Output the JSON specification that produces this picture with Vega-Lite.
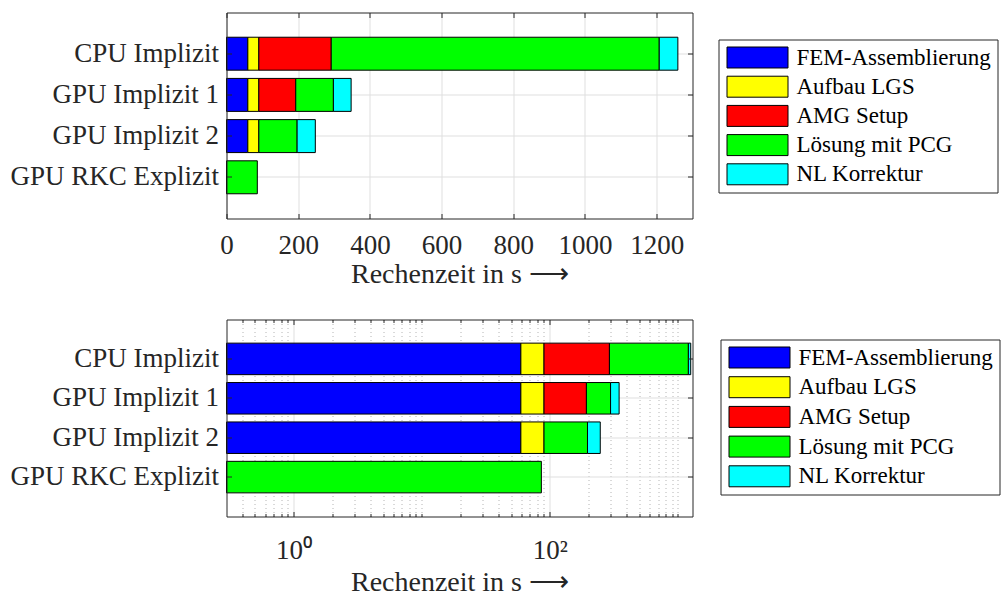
{
  "$schema": "https://vega.github.io/schema/vega-lite/v6.json",
  "background": "white",
  "padding": {"left": 9.5, "top": 11.5, "right": 0, "bottom": 0},
  "spacing": 30,
  "config": {
    "font": "Liberation Serif",
    "view": {"stroke": null},
    "axis": {
      "labelFont": "Liberation Serif",
      "titleFont": "Liberation Serif",
      "labelColor": "#262626",
      "titleColor": "#262626",
      "labelFontSize": 27,
      "titleFontSize": 28,
      "titleFontWeight": "normal",
      "labelLimit": 400,
      "tickColor": "#262626",
      "domainColor": "#262626",
      "tickWidth": 1,
      "domainWidth": 1,
      "gridColor": "#dfdfdf",
      "gridWidth": 1,
      "labelOverlap": false
    },
    "legend": {
      "orient": "none",
      "title": null,
      "direction": "vertical",
      "symbolType": "M-1,-0.344H1V0.344H-1Z",
      "symbolSize": 3721,
      "symbolStrokeColor": "#000",
      "symbolStrokeWidth": 1,
      "symbolOpacity": 1,
      "symbolOffset": 2,
      "clipHeight": 24,
      "labelFont": "Liberation Serif",
      "labelFontSize": 23,
      "labelColor": "#000",
      "labelOffset": 8,
      "labelLimit": 400,
      "rowPadding": 5.2,
      "padding": 6,
      "strokeColor": "#262626",
      "fillColor": "#ffffff",
      "cornerRadius": 0
    }
  },
  "datasets": {
    "times": [
      {"cfg": "CPU Implizit", "part": "FEM-Assemblierung", "t": 59.5},
      {"cfg": "CPU Implizit", "part": "Aufbau LGS", "t": 30.7},
      {"cfg": "CPU Implizit", "part": "AMG Setup", "t": 202},
      {"cfg": "CPU Implizit", "part": "Lösung mit PCG", "t": 915},
      {"cfg": "CPU Implizit", "part": "NL Korrektur", "t": 52},
      {"cfg": "GPU Implizit 1", "part": "FEM-Assemblierung", "t": 59.5},
      {"cfg": "GPU Implizit 1", "part": "Aufbau LGS", "t": 30.7},
      {"cfg": "GPU Implizit 1", "part": "AMG Setup", "t": 103},
      {"cfg": "GPU Implizit 1", "part": "Lösung mit PCG", "t": 105},
      {"cfg": "GPU Implizit 1", "part": "NL Korrektur", "t": 49.5},
      {"cfg": "GPU Implizit 2", "part": "FEM-Assemblierung", "t": 59.5},
      {"cfg": "GPU Implizit 2", "part": "Aufbau LGS", "t": 30.7},
      {"cfg": "GPU Implizit 2", "part": "Lösung mit PCG", "t": 106.8},
      {"cfg": "GPU Implizit 2", "part": "NL Korrektur", "t": 50.8},
      {"cfg": "GPU RKC Explizit", "part": "Lösung mit PCG", "t": 86}
    ]
  },
  "resolve": {"scale": {"color": "independent"}, "legend": {"color": "independent"}},
  "vconcat": [
    {
      "width": 466,
      "height": 206,
      "data": {"name": "times"},
      "transform": [{"stack": "t", "groupby": ["cfg"], "as": ["t0", "t1"]}],
      "layer": [
        {
          "mark": {"type": "bar", "stroke": "#000", "strokeWidth": 1},
          "encoding": {
            "y": {
              "field": "cfg", "type": "nominal",
              "sort": ["CPU Implizit", "GPU Implizit 1", "GPU Implizit 2", "GPU RKC Explizit"],
              "scale": {"paddingInner": 0.2, "paddingOuter": 0.6},
              "title": null,
              "axis": {"orient": "left", "grid": true, "bandPosition": 0.5, "ticks": false, "domain": false, "labelPadding": 8, "zindex": 0}
            },
            "x": {
              "field": "t0", "type": "quantitative",
              "scale": {"domain": [0, 1300], "nice": false, "zero": false},
              "title": "Rechenzeit in s ⟶",
              "axis": {"orient": "bottom", "values": [0, 200, 400, 600, 800, 1000, 1200], "format": "d", "grid": true, "ticks": false, "domain": false, "labelFlush": false, "labelPadding": 14, "titlePadding": 2, "zindex": 0}
            },
            "x2": {"field": "t1"},
            "color": {
              "field": "part", "type": "nominal",
              "scale": {
                "domain": ["FEM-Assemblierung", "Aufbau LGS", "AMG Setup", "Lösung mit PCG", "NL Korrektur"],
                "range": ["#0000ff", "#ffff00", "#ff0000", "#00ff00", "#00ffff"]
              },
              "legend": {"legendX": 492, "legendY": 27}
            }
          }
        },
        {
          "mark": {"type": "tick", "opacity": 0},
          "encoding": {
            "y": {
              "field": "cfg", "type": "nominal",
              "sort": ["CPU Implizit", "GPU Implizit 1", "GPU Implizit 2", "GPU RKC Explizit"],
              "scale": {"paddingInner": 0.2, "paddingOuter": 0.6},
              "title": null,
              "axis": {"orient": "left", "grid": false, "labels": false, "bandPosition": 0.5, "ticks": true, "tickSize": -5, "domain": true, "zindex": 1}
            },
            "x": {
              "field": "t1", "type": "quantitative",
              "scale": {"domain": [0, 1300], "nice": false, "zero": false},
              "title": null,
              "axis": {"orient": "bottom", "values": [0, 200, 400, 600, 800, 1000, 1200], "grid": false, "labels": false, "ticks": true, "tickSize": -5, "domain": true, "zindex": 1}
            }
          }
        },
        {
          "mark": {"type": "tick", "opacity": 0},
          "encoding": {
            "y": {
              "field": "cfg", "type": "nominal",
              "sort": ["CPU Implizit", "GPU Implizit 1", "GPU Implizit 2", "GPU RKC Explizit"],
              "scale": {"paddingInner": 0.2, "paddingOuter": 0.6},
              "title": null,
              "axis": {"orient": "right", "grid": false, "labels": false, "bandPosition": 0.5, "ticks": true, "tickSize": -5, "domain": true, "zindex": 1}
            },
            "x": {
              "field": "t1", "type": "quantitative",
              "scale": {"domain": [0, 1300], "nice": false, "zero": false},
              "title": null,
              "axis": {"orient": "top", "values": [0, 200, 400, 600, 800, 1000, 1200], "grid": false, "labels": false, "ticks": true, "tickSize": -5, "domain": true, "zindex": 1}
            }
          }
        }
      ],
      "resolve": {"axis": {"x": "independent", "y": "independent"}}
    },
    {
      "width": 466,
      "height": 197,
      "data": {"name": "times"},
      "transform": [{"stack": "t", "groupby": ["cfg"], "as": ["t0", "t1"]}],
      "layer": [
        {
          "mark": {"type": "bar", "stroke": "#000", "strokeWidth": 1},
          "encoding": {
            "y": {
              "field": "cfg", "type": "nominal",
              "sort": ["CPU Implizit", "GPU Implizit 1", "GPU Implizit 2", "GPU RKC Explizit"],
              "scale": {"paddingInner": 0.2, "paddingOuter": 0.6},
              "title": null,
              "axis": {"orient": "left", "grid": true, "bandPosition": 0.5, "ticks": false, "domain": false, "labelPadding": 8, "zindex": 0}
            },
            "x": {
              "field": "t0", "type": "quantitative",
              "scale": {"type": "log", "domain": [0.3, 1300], "nice": false, "clamp": true},
              "title": "Rechenzeit in s ⟶",
              "axis": {
                "orient": "bottom",
                "values": [0.4, 0.5, 0.6, 0.7, 0.8, 0.9, 1, 2, 3, 4, 5, 6, 7, 8, 9, 10, 20, 30, 40, 50, 60, 70, 80, 90, 100, 200, 300, 400, 500, 600, 700, 800, 900, 1000],
                "labelExpr": "datum.value === 1 ? '10⁰' : datum.value === 100 ? '10²' : ''",
                "grid": true,
                "gridDash": {"condition": {"test": "datum.value === 1 || datum.value === 100", "value": []}, "value": [1, 3]},
                "gridColor": {"condition": {"test": "datum.value === 1 || datum.value === 100", "value": "#dfdfdf"}, "value": "#b4b4b4"},
                "ticks": false, "domain": false, "labelFlush": false, "labelPadding": 20.7, "titlePadding": 5, "zindex": 0
              }
            },
            "x2": {"field": "t1"},
            "color": {
              "field": "part", "type": "nominal",
              "scale": {
                "domain": ["FEM-Assemblierung", "Aufbau LGS", "AMG Setup", "Lösung mit PCG", "NL Korrektur"],
                "range": ["#0000ff", "#ffff00", "#ff0000", "#00ff00", "#00ffff"]
              },
              "legend": {"legendX": 494, "legendY": 20, "rowPadding": 5.7}
            }
          }
        },
        {
          "mark": {"type": "tick", "opacity": 0},
          "encoding": {
            "y": {
              "field": "cfg", "type": "nominal",
              "sort": ["CPU Implizit", "GPU Implizit 1", "GPU Implizit 2", "GPU RKC Explizit"],
              "scale": {"paddingInner": 0.2, "paddingOuter": 0.6},
              "title": null,
              "axis": {"orient": "left", "grid": false, "labels": false, "bandPosition": 0.5, "ticks": true, "tickSize": -5, "domain": true, "zindex": 1}
            },
            "x": {
              "field": "t1", "type": "quantitative",
              "scale": {"type": "log", "domain": [0.3, 1300], "nice": false, "clamp": true},
              "title": null,
              "axis": {"orient": "bottom", "values": [1, 100], "grid": false, "labels": false, "ticks": true, "tickSize": -5, "domain": true, "zindex": 1}
            }
          }
        },
        {
          "mark": {"type": "tick", "opacity": 0},
          "encoding": {
            "y": {
              "field": "cfg", "type": "nominal",
              "sort": ["CPU Implizit", "GPU Implizit 1", "GPU Implizit 2", "GPU RKC Explizit"],
              "scale": {"paddingInner": 0.2, "paddingOuter": 0.6},
              "title": null,
              "axis": {"orient": "right", "grid": false, "labels": false, "bandPosition": 0.5, "ticks": true, "tickSize": -5, "domain": true, "zindex": 1}
            },
            "x": {
              "field": "t1", "type": "quantitative",
              "scale": {"type": "log", "domain": [0.3, 1300], "nice": false, "clamp": true},
              "title": null,
              "axis": {"orient": "top", "values": [1, 100], "grid": false, "labels": false, "ticks": true, "tickSize": -5, "domain": true, "zindex": 1}
            }
          }
        },
        {
          "mark": {"type": "tick", "opacity": 0},
          "encoding": {
            "y": {
              "field": "cfg", "type": "nominal",
              "sort": ["CPU Implizit", "GPU Implizit 1", "GPU Implizit 2", "GPU RKC Explizit"],
              "scale": {"paddingInner": 0.2, "paddingOuter": 0.6},
              "axis": null
            },
            "x": {
              "field": "t1", "type": "quantitative",
              "scale": {"type": "log", "domain": [0.3, 1300], "nice": false, "clamp": true},
              "title": null,
              "axis": {"orient": "bottom", "values": [0.4, 0.5, 0.6, 0.7, 0.8, 0.9, 2, 3, 4, 5, 6, 7, 8, 9, 10, 20, 30, 40, 50, 60, 70, 80, 90, 200, 300, 400, 500, 600, 700, 800, 900, 1000], "grid": false, "labels": false, "ticks": true, "tickSize": -3, "domain": false, "zindex": 1}
            }
          }
        },
        {
          "mark": {"type": "tick", "opacity": 0},
          "encoding": {
            "y": {
              "field": "cfg", "type": "nominal",
              "sort": ["CPU Implizit", "GPU Implizit 1", "GPU Implizit 2", "GPU RKC Explizit"],
              "scale": {"paddingInner": 0.2, "paddingOuter": 0.6},
              "axis": null
            },
            "x": {
              "field": "t1", "type": "quantitative",
              "scale": {"type": "log", "domain": [0.3, 1300], "nice": false, "clamp": true},
              "title": null,
              "axis": {"orient": "top", "values": [0.4, 0.5, 0.6, 0.7, 0.8, 0.9, 2, 3, 4, 5, 6, 7, 8, 9, 10, 20, 30, 40, 50, 60, 70, 80, 90, 200, 300, 400, 500, 600, 700, 800, 900, 1000], "grid": false, "labels": false, "ticks": true, "tickSize": -3, "domain": false, "zindex": 1}
            }
          }
        }
      ],
      "resolve": {"axis": {"x": "independent", "y": "independent"}}
    }
  ]
}
